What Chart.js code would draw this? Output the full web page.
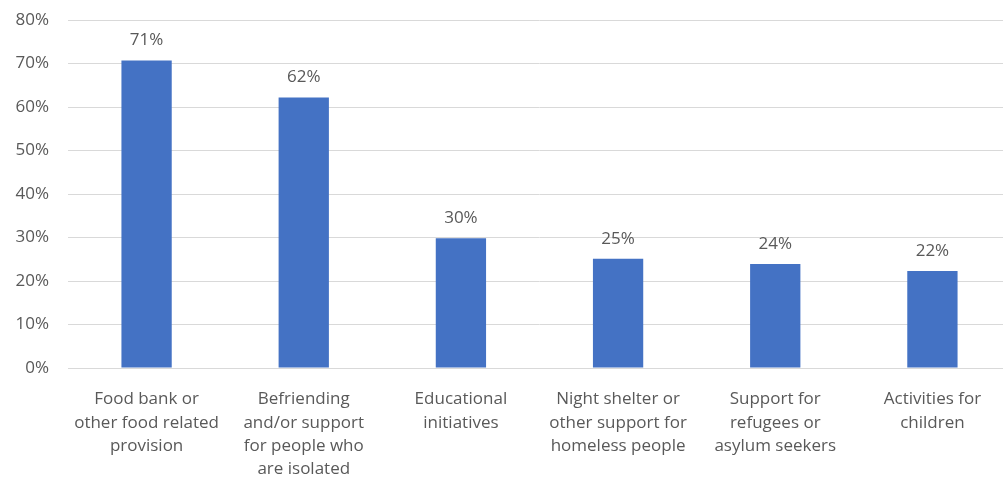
<!DOCTYPE html>
<html>
<head>
<meta charset="utf-8">
<script src="https://cdn.jsdelivr.net/npm/chart.js@4"></script>
<style>
  html, body { margin: 0; padding: 0; background: #fff; }
  #clip { width: 1003px; height: 479px; overflow: hidden; }
  #wrap { width: 1011px; height: 479px; position: relative; }
</style>
</head>
<body>
<div id="clip"><div id="wrap"><canvas id="chart"></canvas></div></div>
<script>
// Categories (multi-line as in the source)
const categories = [
  ['Food bank or', 'other food related', 'provision'],
  ['Befriending', 'and/or support', 'for people who', 'are isolated'],
  ['Educational', 'initiatives'],
  ['Night shelter or', 'other support for', 'homeless people'],
  ['Support for', 'refugees or', 'asylum seekers'],
  ['Activities for', 'children'],
];
// Percent of respondents
const shares = [70.7, 62.2, 29.8, 25.1, 23.9, 22.3];
const yTicks = [0, 10, 20, 30, 40, 50, 60, 70, 80];

const textColor = '#595959';
const fontFamily = '"Open Sans", "Liberation Sans", sans-serif';

// Value labels above each bar
const barLabels = {
  id: 'barLabels',
  afterDatasetsDraw(chart) {
    const { ctx } = chart;
    const meta = chart.getDatasetMeta(0);
    ctx.save();
    ctx.fillStyle = textColor;
    ctx.font = '17px ' + fontFamily;
    ctx.textAlign = 'center';
    ctx.textBaseline = 'alphabetic';
    meta.data.forEach((bar, i) => {
      ctx.fillText(Math.round(shares[i]) + '%', bar.x, bar.y - 15);
    });
    ctx.restore();
  },
};

new Chart(document.getElementById('chart'), {
  type: 'bar',
  data: {
    labels: categories,
    datasets: [{
      data: shares,
      backgroundColor: '#4472C4',
      borderWidth: 0,
      barPercentage: 0.8,
      categoryPercentage: 0.4,
    }],
  },
  options: {
    responsive: true,
    maintainAspectRatio: false,
    animation: false,
    layout: { padding: { top: 20, right: 0, left: 0, bottom: 0 } },
    plugins: {
      legend: { display: false },
      tooltip: { enabled: false },
    },
    scales: {
      x: {
        grid: { display: false },
        border: { color: '#d9d9d9', width: 1 },
        ticks: {
          color: textColor,
          font: { family: fontFamily, size: 17, lineHeight: 1.37 },
          maxRotation: 0,
          autoSkip: false,
          padding: 12,
        },
        afterFit(scale) { scale.height = 111; },
      },
      y: {
        min: 0,
        max: 80,
        afterBuildTicks(scale) { scale.ticks = yTicks.map((v) => ({ value: v })); },
        grid: { color: '#d9d9d9', lineWidth: 1, drawTicks: false },
        border: { display: false },
        ticks: {
          color: textColor,
          font: { family: fontFamily, size: 17 },
          padding: 19,
          callback: (v) => v + '%',
        },
        afterFit(scale) {
          scale.width = 68;
          scale.paddingTop = 0;
          scale.paddingBottom = 0;
        },
      },
    },
  },
  plugins: [barLabels],
});
</script>
</body>
</html>
